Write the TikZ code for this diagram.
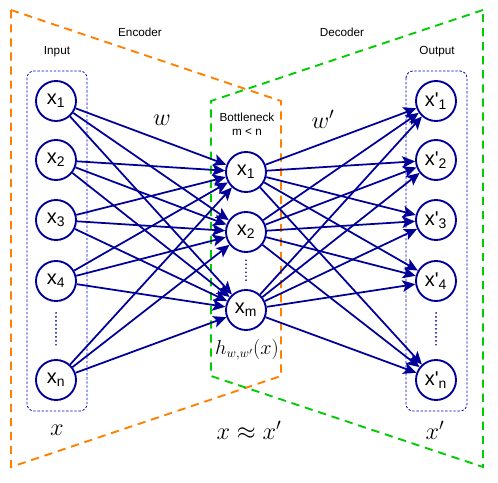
\documentclass[tikz,border=0pt]{standalone}
\usepackage{fontspec}
\setmainfont{Liberation Sans}
\usetikzlibrary{arrows.meta}

\definecolor{navy}{RGB}{0,0,153}
\definecolor{encorange}{RGB}{255,128,0}
\definecolor{decgreen}{RGB}{0,204,0}
\definecolor{boxblue}{RGB}{0,0,204}

\tikzset{
  neuron/.style={circle, draw=navy, line width=1.6pt, fill=white, minimum size=1.2cm, inner sep=0pt, font=\fontsize{17}{20}\selectfont},
  link/.style={draw=navy, line width=1.5pt, -{Stealth[length=11pt,width=10pt,inset=2.5pt]}},
  layerbox/.style={draw=boxblue, line width=0.7pt, dash pattern=on 2pt off 1.5pt, rounded corners=6pt},
  vdots/.style={draw=navy, line width=1.6pt, line cap=round, dash pattern=on 0pt off 3.4pt},
  halfline/.style={line width=1.6pt, dash pattern=on 7pt off 5pt},
  caption/.style={font=\fontsize{10}{12}\selectfont},
  mathlabel/.style={font=\fontsize{20}{23}\selectfont}
}

\begin{document}
\begin{tikzpicture}[x=0.03cm, y=-0.03cm]
      \useasboundingbox (0,0) rectangle (498,483);

      % encoder and decoder halves
      \draw[halfline, encorange] (11,10) -- (281,101) -- (281,376) -- (11,467) -- cycle;
      \draw[halfline, decgreen] (483,10) -- (211,101) -- (211,376) -- (483,467) -- cycle;

      % layer boxes
      \draw[layerbox] (27,71) rectangle (87,411);
      \draw[layerbox] (406,71) rectangle (467,411);

      \node[caption] (enc) at (140,32){Encoder};
      \node[caption] (dec) at (342,32){Decoder};
      \node[caption] (inp) at (57,52){Input};
      \node[caption] (outp) at (437,52){Output};
      \node[caption, align=center] (neck) at (247,124){Bottleneck\\m < n};

      \node[neuron] (in1) at (56,101){x\textsubscript{1}};
      \node[neuron] (in2) at (56,160){x\textsubscript{2}};
      \node[neuron] (in3) at (56,220){x\textsubscript{3}};
      \node[neuron] (in4) at (56,281){x\textsubscript{4}};
      \node[neuron] (inn) at (56,380){x\textsubscript{n}};

      \node[neuron] (mid1) at (246,172){x\textsubscript{1}};
      \node[neuron] (mid2) at (246,232){x\textsubscript{2}};
      \node[neuron] (midm) at (246,310){x\textsubscript{m}};

      \node[neuron] (out1) at (436,101){x\textquotesingle\textsubscript{1}};
      \node[neuron] (out2) at (436,160){x\textquotesingle\textsubscript{2}};
      \node[neuron] (out3) at (436,220){x\textquotesingle\textsubscript{3}};
      \node[neuron] (out4) at (436,281){x\textquotesingle\textsubscript{4}};
      \node[neuron] (outn) at (436,380){x\textquotesingle\textsubscript{n}};

      \draw[vdots, shorten <=0.33cm, shorten >=0.33cm] (in4) -- (inn);
      \draw[vdots, shorten <=0.22cm, shorten >=0.22cm] (mid2) -- (midm);
      \draw[vdots, shorten <=0.33cm, shorten >=0.33cm] (out4) -- (outn);

      \foreach \a in {in1,in2,in3,in4,inn}
        \foreach \b in {mid1,mid2,midm}
          \draw[link] (\a) -- (\b);
      \foreach \a in {mid1,mid2,midm}
        \foreach \b in {out1,out2,out3,out4,outn}
          \draw[link] (\a) -- (\b);

      \node[mathlabel] (wenc) at (162,120){\(w\)};
      \node[mathlabel] (wdec) at (323,119){\(w'\)};
      \node[font=\fontsize{16}{19}\selectfont] (code) at (247,350){\(h_{w,w'}(x)\)};
      \node[mathlabel] (xin) at (57,430){\(x\)};
      \node[mathlabel] (xapprox) at (249,430){\(x \approx x'\)};
      \node[mathlabel] (xout) at (435,430){\(x'\)};
    \end{tikzpicture}
\end{document}
